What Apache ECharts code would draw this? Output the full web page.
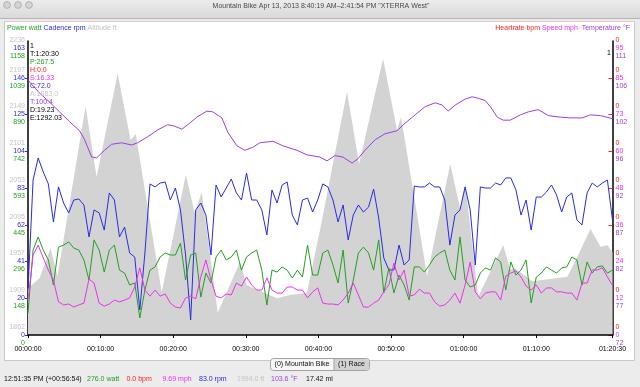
<!DOCTYPE html>
<html><head><meta charset="utf-8">
<script src="https://cdn.jsdelivr.net/npm/echarts@6/dist/echarts.min.js"></script>
<style>html,body{margin:0;padding:0;background:#ececec;overflow:hidden}#c{width:640px;height:387px;}</style>
</head><body><div id="c"></div>
<script>
// ---- data ----
const timeStep = 42; // seconds between samples of the fast-changing channels
const cadence = [25.5,87.7,100.2,92.3,85.5,64.0,83.8,74.7,69.1,76.4,
77.0,73.6,55.5,70.8,69.1,59.4,80.4,76.4,55.5,61.1,
46.4,44.1,14.2,46.4,85.5,83.8,86.0,86.6,76.4,83.2,
70.8,45.3,8.5,70.8,74.7,67.9,45.3,84.9,78.1,83.2,
88.3,80.4,76.4,91.7,76.4,76.4,70.8,56.6,82.1,74.7,
84.9,86.6,67.9,62.3,76.4,77.5,69.6,76.4,85.5,83.8,
76.4,64.0,73.6,53.8,67.9,73.6,69.6,72.4,82.6,66.2,
43.6,36.8,36.8,50.9,39.6,42.5,84.3,83.8,83.8,86.0,
83.8,83.8,76.4,50.9,67.9,70.8,83.8,70.8,39.6,83.8,
83.2,83.2,86.0,84.9,88.9,88.9,82.1,67.9,76.4,59.4,
78.1,78.1,80.9,84.9,79.2,69.6,78.1,80.4,65.1,62.3,
80.4,86.0,83.8,86.0,87.7,65.0];
const power = [89,343,396,343,303,202,355,363,376,351,
343,303,222,384,343,254,343,363,262,250,
202,210,69,182,262,275,315,331,323,323,
371,222,323,331,153,250,210,315,343,303,
315,343,262,315,331,343,262,121,262,254,
275,262,230,262,234,363,242,242,331,343,
283,210,343,129,222,331,355,331,262,384,
170,271,170,242,202,141,275,275,254,283,
315,331,343,262,222,396,222,194,202,250,
271,262,311,295,182,295,242,262,303,129,
234,250,275,262,250,271,275,315,303,202,
295,250,275,279,250,262];
const speed = [11.5,26.3,29.6,25.4,21.4,18.1,10.9,9.9,10.2,9.2,
9.9,10.5,18.4,17.1,10.5,9.5,10.2,11.5,10.9,11.5,
12.2,15.8,22.1,14.8,12.8,14.8,12.8,13.5,10.5,9.2,
8.9,12.2,12.8,11.9,19.1,24.7,18.1,12.8,12.2,13.5,
13.2,17.1,16.1,19.1,16.5,14.8,14.8,18.8,14.8,13.8,
13.8,15.8,15.8,14.8,14.8,12.2,14.2,15.5,10.5,10.2,
10.2,9.9,11.5,13.8,17.1,13.2,9.2,9.2,10.5,11.5,
14.2,16.5,23.7,18.1,21.4,12.8,13.2,15.1,13.8,13.8,
10.9,9.5,9.9,11.5,13.8,10.5,16.5,24.0,14.2,11.9,
13.8,14.2,14.2,11.5,19.4,20.4,21.1,19.1,16.1,14.8,
16.5,13.8,15.5,15.5,14.2,14.2,13.8,13.8,11.5,17.1,
17.1,21.4,21.4,22.1,19.1,16.3];
const altTimes = [0,95,186,244,476,567,741,848,890,1105,1304,1378,1436,1568,1751,1808,2057,2164,2305,2413,2636,2736,2934,3050,3083,3298,3489,3571,3613,3720,3927,3985,4027,4167,4457,4540,4648,4731,4789,4830];
const altitude = [1923,1936,1975,1939,2160,2068,2203,2116,2124,1918,2071,2021,2048,1891,1957,1927,1910,1914,1917,1999,2179,2085,2222,2129,2146,1939,2085,2027,2059,1912,1979,1947,1949,1932,1938,1964,2000,1977,1979,1970];
const tempTimes = [0,95,178,261,343,426,468,526,567,633,691,774,857,906,989,1071,1154,1213,1271,1337,1395,1478,1527,1602,1651,1726,1792,1858,1916,2024,2106,2222,2305,2413,2471,2537,2603,2678,2727,2785,2868,2951,3050,3116,3199,3282,3365,3423,3472,3530,3613,3671,3720,3778,3820,3878,3927,3985,4068,4134,4217,4300,4399,4482,4581,4648,4731,4830];
const temperature = [105.8,104.1,102.9,101.6,100.3,99.1,97.9,95.6,95.5,96.5,97.3,97.5,97.2,97.5,98.3,99.2,99.9,99.7,99.3,100.1,100.9,101.7,101.6,100.8,98.9,97.1,96.5,96.9,97.5,97.7,97.1,96.5,95.9,95.6,95.1,95.8,95.6,94.8,95.4,96.5,97.9,98.7,99.1,100.1,101.2,102.3,102.8,102.5,101.7,102.5,103.3,103.6,103.4,103.1,102.3,100.9,100.5,100.5,101.2,101.6,101.9,101.1,100.9,100.8,100.8,101.2,101.1,100.7];
const xEnd = 4830;
const xTickTimes = [0,600,1200,1800,2400,3000,3600,4200,4830];
const altTicks = ['1862','1909','1957','2005','2053','2101','2149','2197','2236'];
const cadTicks = ['0','20','41','62','83','104','125','146','163'];
const powTicks = ['0','148','296','445','593','742','890','1039','1158'];
const hrTicks  = ['0','0','0','0','0','0','0','0','0'];
const spdTicks = ['0','12','24','36','48','60','73','85','95'];
const tmpTicks = ['72','77','82','87','92','96','102','106','111'];

// ---- styling ----
const FONT = '"Liberation Sans", Arial, sans-serif';
const C = {alt:'#c4c4c4', cad:'#2a2ae6', pow:'#22a022', hr:'#ff2020', spd:'#ee30ee', tmp:'#9b3fe6', area:'#d3d3d3'};
function hms(s){const h=Math.floor(s/3600),m=Math.floor(s%3600/60),x=Math.round(s%60);return [h,m,x].map(n=>String(n).padStart(2,'0')).join(':');}
const TOP_K = 7.82;
function yAx(o){
  const pos = o.ticks.map((t,k)=> k<8 ? o.min + k*o.step : o.min + TOP_K*o.step);
  return {
    type:'value', position:o.position, offset:0, min:o.min, max:o.min+8*o.step,
    axisLine:{show:!!o.line, onZero:false, lineStyle:{color:'#000', width:1.5}},
    axisTick: o.tick ? Object.assign({show:true, customValues: pos.slice(0,8), lineStyle:{color:o.color}}, o.tick) : {show:false},
    splitLine:{show:false},
    axisLabel:{
      customValues: pos, color:o.color, fontSize:7, fontFamily:FONT, margin:3, lineHeight:16,
      verticalAlign: o.shift<0 ? 'bottom' : (o.shift>0 ? 'top' : 'middle'),
      showMinLabel:true, showMaxLabel:true, hideOverlap:false,
      formatter: v => { let b=0; pos.forEach((p,k)=>{ if(Math.abs(p-v)<Math.abs(pos[b]-v)) b=k; }); return o.ticks[b]; }
    }
  };
}
const chart = echarts.init(document.getElementById('c'), null, {renderer:'canvas'});
const T = (x,y,text,fill,extra) => Object.assign({type:'text', x, y, z:100, style:Object.assign({text, fill, font:'7px '+FONT, textVerticalAlign:'middle'}, extra||{})});
const option = {
  animation:false,
  textStyle:{fontFamily:FONT},
  grid:{left:28, right:27.5, top:41, bottom:52, containLabel:false},
  xAxis:{type:'value', min:0, max:xEnd, z:10,
    axisLine:{lineStyle:{color:'#000', width:1.5}},
    axisTick:{show:true, customValues:xTickTimes, length:3, lineStyle:{color:'#000'}},
    splitLine:{show:false},
    axisLabel:{customValues:xTickTimes, formatter:v=>hms(v), color:'#000', fontSize:7, fontFamily:FONT, margin:11, showMaxLabel:true, hideOverlap:false}
  },
  yAxis:[
    yAx({position:'left', min:1862, step:47.9, ticks:altTicks, color:C.alt, shift:-1}),
    yAx({position:'left', min:0, step:20.8, ticks:cadTicks, color:C.cad, shift:0, line:true, tick:{length:3}}),
    yAx({position:'left', min:0, step:148.4, ticks:powTicks, color:C.pow, shift:1}),
    yAx({position:'right', min:0, step:1, ticks:hrTicks, color:C.hr, shift:-1, line:true, tick:{length:4, inside:true}}),
    yAx({position:'right', min:0, step:12.1, ticks:spdTicks, color:C.spd, shift:0}),
    yAx({position:'right', min:72, step:4.875, ticks:tmpTicks, color:C.tmp, shift:1})
  ],
  series:[
    {type:'line', name:'Altitude', yAxisIndex:0, z:1, symbol:'none', silent:true,
     data:altTimes.map((t,i)=>[t,altitude[i]]), lineStyle:{width:0}, areaStyle:{color:C.area, opacity:1, origin:'start'}},
    {type:'line', name:'Temperature', yAxisIndex:5, symbol:'none', silent:true,
     data:tempTimes.map((t,i)=>[t,temperature[i]]), lineStyle:{width:1, color:C.tmp}},
    {type:'line', name:'Cadence', yAxisIndex:1, symbol:'none', silent:true,
     data:cadence.map((v,i)=>[i*timeStep,v]), lineStyle:{width:1, color:C.cad}},
    {type:'line', name:'Power', yAxisIndex:2, symbol:'none', silent:true,
     data:power.map((v,i)=>[i*timeStep,v]), lineStyle:{width:1, color:C.pow}},
    {type:'line', name:'Speed', yAxisIndex:4, symbol:'none', silent:true,
     data:speed.map((v,i)=>[i*timeStep,v]), lineStyle:{width:1, color:C.spd}}
  ],
  graphic:[
    {type:'rect', z:-10, shape:{x:0,y:0,width:640,height:18}, style:{fill:new echarts.graphic.LinearGradient(0,0,0,1,[{offset:0,color:'#ececec'},{offset:1,color:'#d9d9d9'}])}},
    {type:'line', z:-9, shape:{x1:0,y1:18.5,x2:640,y2:18.5}, style:{stroke:'#b4b4b4', lineWidth:1}},
    {type:'circle', z:-9, shape:{cx:7,cy:5,r:3.4}, style:{fill:'#d4d4d4', stroke:'#a9a9a9', lineWidth:0.8}},
    {type:'circle', z:-9, shape:{cx:18,cy:5,r:3.4}, style:{fill:'#d4d4d4', stroke:'#a9a9a9', lineWidth:0.8}},
    {type:'circle', z:-9, shape:{cx:29,cy:5,r:3.4}, style:{fill:'#d4d4d4', stroke:'#a9a9a9', lineWidth:0.8}},
    T(321,6,'Mountain Bike Apr 13, 2013 8:40:19 AM\u20132:41:54 PM "XTERRA West"','#4a4a4a',{textAlign:'center'}),
    {type:'rect', z:-10, shape:{x:4.5,y:21.5,width:630,height:339}, style:{fill:'#fff', stroke:'#c8c8c8', lineWidth:1}},
    {type:'line', z:-9, shape:{x1:5,y1:21.5,x2:634,y2:21.5}, style:{stroke:'#e6c6ca', lineWidth:1}},
    {type:'text', x:7, y:28, z:100, style:{text:'{g|Power watt} {b|Cadence rpm} {a|Altitude ft}', font:'7px '+FONT, textVerticalAlign:'middle',
      rich:{g:{fill:C.pow,font:'7px '+FONT}, b:{fill:C.cad,font:'7px '+FONT}, a:{fill:C.alt,font:'7px '+FONT}}}},
    {type:'text', x:630, y:28, z:100, style:{text:'{r|Heartrate bpm} {m|Speed mph}  {p|Temperature \u00b0F}', font:'7px '+FONT, textAlign:'right', textVerticalAlign:'middle',
      rich:{r:{fill:C.hr,font:'7px '+FONT}, m:{fill:C.spd,font:'7px '+FONT}, p:{fill:C.tmp,font:'7px '+FONT}}}},
    T(30,46,'1','#000'),
    T(607,53,'1','#000'),
    T(30,54,'T:1:20:30','#000'),
    T(30,62,'P:267.5',C.pow),
    T(30,70,'H:0.0',C.hr),
    T(30,78,'S:16.33',C.spd),
    T(30,86,'C:72.0',C.cad),
    T(30,94,'A:1883.0',C.alt),
    T(30,102,'T:100.4',C.tmp),
    T(30,110,'D:19.23','#000'),
    T(30,118,'E:1292.03','#000'),
    {type:'rect', z:50, shape:{x:270.5,y:358.5,width:99,height:12,r:3}, style:{fill:'#f7f7f7', stroke:'#a2a2a2', lineWidth:1}},
    {type:'rect', z:51, shape:{x:334,y:359,width:35,height:11,r:[0,3,3,0]}, style:{fill:'#d2d2d2'}},
    {type:'line', z:52, shape:{x1:334,y1:359,x2:334,y2:370}, style:{stroke:'#a2a2a2', lineWidth:1}},
    T(302,364.5,'(0) Mountain Bike','#111',{textAlign:'center'}),
    T(351.5,364.5,'(1) Race','#111',{textAlign:'center'}),
    T(4,379,'12:51:35 PM (+00:56:54)','#111'),
    T(87,379,'276.0 watt',C.pow),
    T(126.5,379,'0.0 bpm',C.hr),
    T(162.5,379,'9.69 mph',C.spd),
    T(199,379,'83.0 rpm',C.cad),
    T(237,379,'1994.0 ft',C.alt),
    T(271,379,'103.6 \u00b0F',C.tmp),
    T(306,379,'17.42 mi','#111')
  ]
};
chart.setOption(option);
</script></body></html>
